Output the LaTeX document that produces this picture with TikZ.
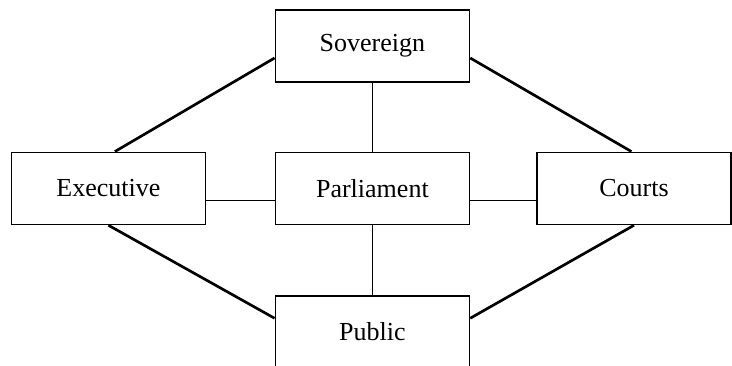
\documentclass[tikz,border=0pt]{standalone}
\usepackage{fontspec}
\setmainfont{Liberation Serif}
\usetikzlibrary{calc}
\begin{document}
\begin{tikzpicture}[box/.style={draw,line width=1.2pt,minimum width=4.85cm,minimum height=1.8cm,font=\fontsize{18.5}{22}\selectfont},
  link/.style={line width=1.9pt},
  rod/.style={line width=1.2pt}]
  \useasboundingbox (0,0) rectangle (18.3,-9.15);
  \clip (0,0) rectangle (18.3,-9.15);
  \node[box] (sov) at (9.31,-1.15) {Sovereign};
  \node[box] (exe) at (2.71,-4.71) {Executive};
  \node[box] (par) at (9.31,-4.71) {Parliament};
  \node[box] (cou) at (15.85,-4.71) {Courts};
  \node[box] (pub) at (9.31,-8.3) {Public};
  \draw[link] (sov.187) -- (exe.80);
  \draw[link] (sov.-7) -- (cou.94);
  \draw[link] (exe.south) -- (pub.172);
  \draw[link] (cou.south) -- (pub.8);
  \draw[rod] (sov.south) -- (par.north);
  \draw[rod] (par.south) -- (pub.north);
  \draw[rod] (exe.-7) -- (exe.-7 -| par.west);
  \draw[rod] (par.-7) -- (par.-7 -| cou.west);
\end{tikzpicture}
\end{document}
